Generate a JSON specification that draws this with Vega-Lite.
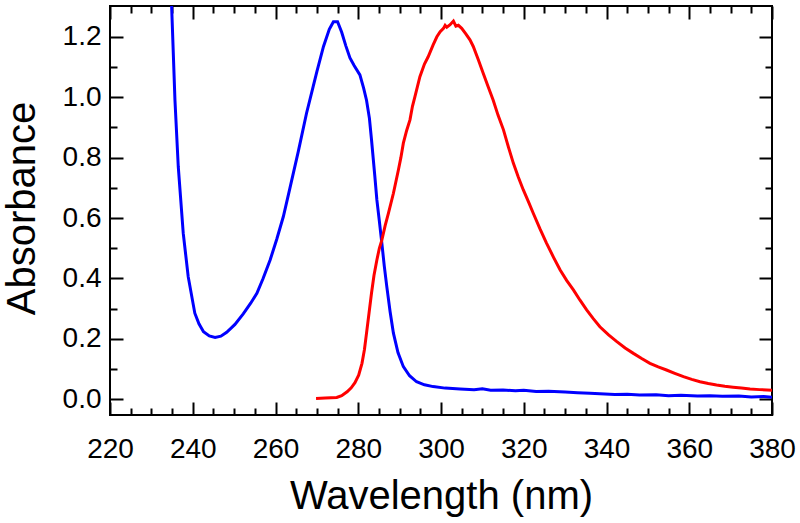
{
  "$schema": "https://vega.github.io/schema/vega-lite/v6.json",
  "width": 662,
  "height": 409,
  "autosize": {"type": "none"},
  "padding": {"left": 110, "top": 6, "right": 28, "bottom": 108},
  "background": "white",
  "config": {
    "view": {"stroke": "#000", "strokeWidth": 2},
    "axis": {
      "domain": false,
      "grid": false,
      "tickColor": "#000",
      "tickWidth": 2,
      "labelFont": "Liberation Sans",
      "labelFontSize": 28,
      "labelColor": "#000",
      "titleFont": "Liberation Sans",
      "titleFontSize": 40,
      "titleFontWeight": "normal",
      "titleColor": "#000"
    }
  },
  "datasets": {
    "blue": [
      {"wl": 234.5, "abs": 1.45}, {"wl": 234.9, "abs": 1.30}, {"wl": 235.7, "abs": 0.99}, {"wl": 236.5, "abs": 0.77},
      {"wl": 237.7, "abs": 0.55}, {"wl": 238.9, "abs": 0.406}, {"wl": 240.5, "abs": 0.285}, {"wl": 241.5, "abs": 0.25},
      {"wl": 242.6, "abs": 0.224}, {"wl": 244.0, "abs": 0.21}, {"wl": 245.4, "abs": 0.205}, {"wl": 246.8, "abs": 0.209},
      {"wl": 248.2, "abs": 0.222}, {"wl": 250.2, "abs": 0.248}, {"wl": 252.2, "abs": 0.283}, {"wl": 254.0, "abs": 0.318},
      {"wl": 255.5, "abs": 0.351}, {"wl": 257.0, "abs": 0.4}, {"wl": 258.7, "abs": 0.461}, {"wl": 260.3, "abs": 0.53},
      {"wl": 261.9, "abs": 0.605}, {"wl": 263.5, "abs": 0.7}, {"wl": 265.5, "abs": 0.82}, {"wl": 267.5, "abs": 0.947},
      {"wl": 269.1, "abs": 1.035}, {"wl": 270.0, "abs": 1.085}, {"wl": 271.6, "abs": 1.168}, {"wl": 273.0, "abs": 1.225},
      {"wl": 274.0, "abs": 1.25}, {"wl": 275.0, "abs": 1.25}, {"wl": 276.0, "abs": 1.215}, {"wl": 277.0, "abs": 1.17},
      {"wl": 278.0, "abs": 1.13}, {"wl": 279.0, "abs": 1.105}, {"wl": 280.4, "abs": 1.074}, {"wl": 281.3, "abs": 1.03},
      {"wl": 282.0, "abs": 0.99}, {"wl": 282.7, "abs": 0.93}, {"wl": 283.2, "abs": 0.86}, {"wl": 284.0, "abs": 0.74},
      {"wl": 284.5, "abs": 0.66}, {"wl": 285.1, "abs": 0.59}, {"wl": 285.7, "abs": 0.517}, {"wl": 286.3, "abs": 0.44},
      {"wl": 286.9, "abs": 0.373}, {"wl": 287.7, "abs": 0.29}, {"wl": 288.5, "abs": 0.219}, {"wl": 289.6, "abs": 0.155},
      {"wl": 290.9, "abs": 0.108}, {"wl": 292.4, "abs": 0.078}, {"wl": 294.1, "abs": 0.058}, {"wl": 296.0, "abs": 0.048},
      {"wl": 298.1, "abs": 0.042}, {"wl": 301.0, "abs": 0.037}, {"wl": 304.6, "abs": 0.034}, {"wl": 308.0, "abs": 0.032},
      {"wl": 310.0, "abs": 0.035}, {"wl": 312.0, "abs": 0.03}, {"wl": 315.0, "abs": 0.031}, {"wl": 318.0, "abs": 0.028},
      {"wl": 320.0, "abs": 0.03}, {"wl": 323.0, "abs": 0.026}, {"wl": 326.0, "abs": 0.027}, {"wl": 330.0, "abs": 0.024},
      {"wl": 333.0, "abs": 0.022}, {"wl": 336.0, "abs": 0.02}, {"wl": 338.4, "abs": 0.018}, {"wl": 342.0, "abs": 0.016},
      {"wl": 345.0, "abs": 0.017}, {"wl": 348.0, "abs": 0.014}, {"wl": 352.0, "abs": 0.015}, {"wl": 355.0, "abs": 0.012},
      {"wl": 358.0, "abs": 0.013}, {"wl": 362.0, "abs": 0.011}, {"wl": 365.0, "abs": 0.012}, {"wl": 368.0, "abs": 0.01},
      {"wl": 372.0, "abs": 0.011}, {"wl": 375.0, "abs": 0.008}, {"wl": 378.0, "abs": 0.009}, {"wl": 380.0, "abs": 0.007}
    ],
    "red": [
      {"wl": 269.8, "abs": 0.003}, {"wl": 272.0, "abs": 0.004}, {"wl": 274.8, "abs": 0.006}, {"wl": 276.0, "abs": 0.012},
      {"wl": 277.3, "abs": 0.025}, {"wl": 278.3, "abs": 0.038}, {"wl": 279.2, "abs": 0.055}, {"wl": 280.1, "abs": 0.08},
      {"wl": 280.9, "abs": 0.119}, {"wl": 281.5, "abs": 0.165}, {"wl": 282.0, "abs": 0.219}, {"wl": 282.6, "abs": 0.285},
      {"wl": 283.2, "abs": 0.351}, {"wl": 283.8, "abs": 0.41}, {"wl": 284.5, "abs": 0.461}, {"wl": 285.1, "abs": 0.5},
      {"wl": 285.7, "abs": 0.527}, {"wl": 286.5, "abs": 0.575}, {"wl": 287.3, "abs": 0.616}, {"wl": 288.5, "abs": 0.682},
      {"wl": 289.7, "abs": 0.759}, {"wl": 290.3, "abs": 0.8}, {"wl": 290.9, "abs": 0.848}, {"wl": 291.7, "abs": 0.89},
      {"wl": 292.5, "abs": 0.925}, {"wl": 293.1, "abs": 0.97}, {"wl": 293.7, "abs": 1.002}, {"wl": 294.9, "abs": 1.068},
      {"wl": 296.0, "abs": 1.11}, {"wl": 296.9, "abs": 1.134}, {"wl": 298.1, "abs": 1.173}, {"wl": 299.0, "abs": 1.2},
      {"wl": 299.8, "abs": 1.217}, {"wl": 300.6, "abs": 1.228}, {"wl": 301.0, "abs": 1.238}, {"wl": 301.4, "abs": 1.232},
      {"wl": 302.2, "abs": 1.24}, {"wl": 303.0, "abs": 1.252}, {"wl": 303.6, "abs": 1.235}, {"wl": 304.2, "abs": 1.238},
      {"wl": 305.0, "abs": 1.228}, {"wl": 306.0, "abs": 1.21}, {"wl": 307.0, "abs": 1.19}, {"wl": 307.8, "abs": 1.168},
      {"wl": 309.0, "abs": 1.125}, {"wl": 310.2, "abs": 1.079}, {"wl": 311.4, "abs": 1.035}, {"wl": 312.6, "abs": 0.991},
      {"wl": 313.8, "abs": 0.94}, {"wl": 315.1, "abs": 0.892}, {"wl": 316.3, "abs": 0.835}, {"wl": 317.5, "abs": 0.781},
      {"wl": 318.7, "abs": 0.735}, {"wl": 319.9, "abs": 0.693}, {"wl": 321.1, "abs": 0.655}, {"wl": 322.3, "abs": 0.616},
      {"wl": 323.9, "abs": 0.565}, {"wl": 325.5, "abs": 0.517}, {"wl": 327.2, "abs": 0.47}, {"wl": 328.8, "abs": 0.428},
      {"wl": 330.4, "abs": 0.393}, {"wl": 332.0, "abs": 0.362}, {"wl": 333.6, "abs": 0.328}, {"wl": 335.2, "abs": 0.296},
      {"wl": 336.8, "abs": 0.267}, {"wl": 338.4, "abs": 0.24}, {"wl": 340.5, "abs": 0.213}, {"wl": 342.5, "abs": 0.191},
      {"wl": 344.5, "abs": 0.17}, {"wl": 346.5, "abs": 0.152}, {"wl": 348.5, "abs": 0.135}, {"wl": 350.5, "abs": 0.119},
      {"wl": 352.5, "abs": 0.107}, {"wl": 354.5, "abs": 0.097}, {"wl": 356.5, "abs": 0.086}, {"wl": 358.6, "abs": 0.075},
      {"wl": 360.6, "abs": 0.066}, {"wl": 362.6, "abs": 0.058}, {"wl": 364.6, "abs": 0.052}, {"wl": 366.6, "abs": 0.047},
      {"wl": 368.6, "abs": 0.043}, {"wl": 370.6, "abs": 0.04}, {"wl": 372.6, "abs": 0.037}, {"wl": 374.7, "abs": 0.034},
      {"wl": 377.0, "abs": 0.032}, {"wl": 380.0, "abs": 0.03}
    ]
  },
  "layer": [
    {
      "data": {"name": "blue"},
      "mark": {"type": "line", "color": "#0000ff", "strokeWidth": 3, "clip": true},
      "encoding": {
        "x": {
          "field": "wl", "type": "quantitative",
          "scale": {"domain": [220, 380], "nice": false, "zero": false},
          "axis": {
            "orient": "bottom",
            "title": "Wavelength (nm)",
            "values": [220,225,230,235,240,245,250,255,260,265,270,275,280,285,290,295,300,305,310,315,320,325,330,335,340,345,350,355,360,365,370,375,380],
            "tickSize": {"condition": {"test": "datum.value % 20 === 0", "value": -13}, "value": -7},
            "labelExpr": "datum.value % 20 === 0 ? datum.label : ''",
            "labelFontSize": 28,
            "labelPadding": 33,
            "labelFlush": false,
            "labelOverlap": false,
            "titleFontSize": 40,
            "titleBaseline": "alphabetic",
            "titleY": 93
          }
        },
        "y": {
          "field": "abs", "type": "quantitative",
          "scale": {"domain": [-0.052, 1.302], "nice": false, "zero": false},
          "axis": {
            "orient": "left",
            "title": "Absorbance",
            "values": [0, 0.1, 0.2, 0.3, 0.4, 0.5, 0.6, 0.7, 0.8, 0.9, 1.0, 1.1, 1.2],
            "format": ".1f",
            "tickSize": {"condition": {"test": "round(datum.value * 10) % 2 === 0", "value": -13}, "value": -7},
            "labelExpr": "round(datum.value * 10) % 2 === 0 ? datum.label : ''",
            "labelFontSize": 28,
            "labelPadding": 22,
            "labelFlush": false,
            "labelOverlap": false,
            "titleFontSize": 40,
            "titleBaseline": "alphabetic",
            "titleX": -76,
            "titleY": 202
          }
        }
      }
    },
    {
      "data": {"name": "red"},
      "mark": {"type": "line", "color": "#ff0000", "strokeWidth": 3, "clip": true},
      "encoding": {
        "x": {
          "field": "wl", "type": "quantitative",
          "axis": {
            "orient": "top",
            "title": null,
            "labels": false,
            "values": [220,225,230,235,240,245,250,255,260,265,270,275,280,285,290,295,300,305,310,315,320,325,330,335,340,345,350,355,360,365,370,375,380],
            "tickSize": {"condition": {"test": "datum.value % 20 === 0", "value": -13}, "value": -7}
          }
        },
        "y": {
          "field": "abs", "type": "quantitative",
          "axis": {
            "orient": "right",
            "title": null,
            "labels": false,
            "values": [0, 0.1, 0.2, 0.3, 0.4, 0.5, 0.6, 0.7, 0.8, 0.9, 1.0, 1.1, 1.2],
            "tickSize": {"condition": {"test": "round(datum.value * 10) % 2 === 0", "value": -13}, "value": -7}
          }
        }
      }
    }
  ],
  "resolve": {"axis": {"x": "independent", "y": "independent"}}
}
